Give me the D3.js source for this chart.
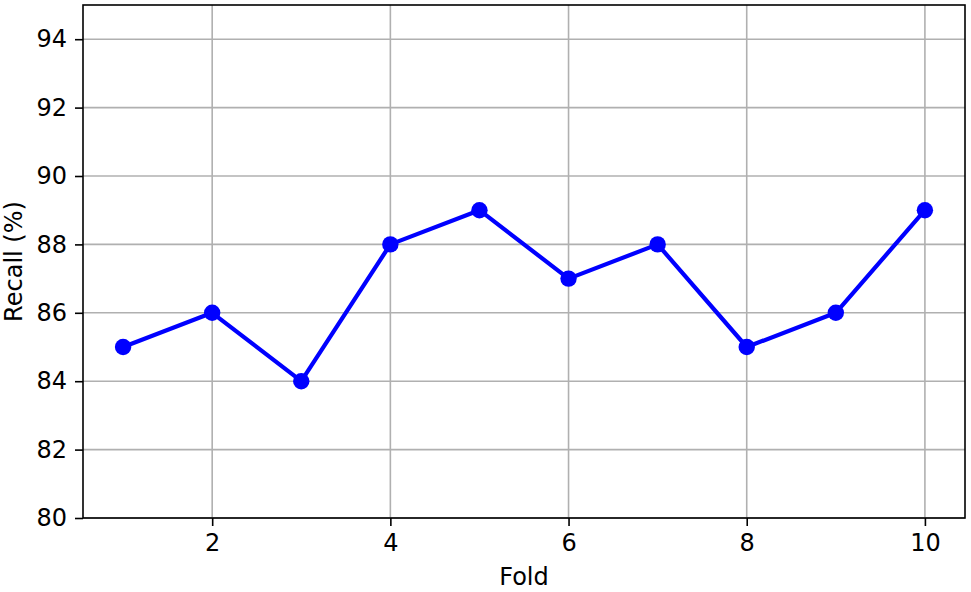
<!DOCTYPE html>
<html>
<head>
<meta charset="utf-8">
<script src="https://cdn.jsdelivr.net/npm/d3@7"></script>
<style>
  body { margin: 0; background: #fff; }
  text { font-family: "DejaVu Sans", sans-serif; fill: #000; }
</style>
</head>
<body>
<div id="chart"></div>
<script>
// Datos
var folds = [1, 2, 3, 4, 5, 6, 7, 8, 9, 10];
var recall = [85, 86, 84, 88, 89, 87, 88, 85, 86, 89];
var xTicks = [2, 4, 6, 8, 10];
var yTicks = [80, 82, 84, 86, 88, 90, 92, 94];

var svgWidth = 971;
var svgHeight = 592;
var margin = { left: 83, right: 6, top: 5, bottom: 74 };
var plotW = svgWidth - margin.left - margin.right;
var plotH = svgHeight - margin.top - margin.bottom;
var fontSize = 24;

var svg = d3.select("#chart")
  .append("svg")
  .attr("width", svgWidth)
  .attr("height", svgHeight);

var g = svg.append("g")
  .attr("transform", "translate(" + margin.left + "," + margin.top + ")");

var x = d3.scaleLinear().domain([0.55, 10.45]).range([0, plotW]);
var y = d3.scaleLinear().domain([80, 95]).range([plotH, 0]);

// Grilla
g.append("g")
  .selectAll("line.vgrid")
  .data(xTicks)
  .enter().append("line")
  .attr("x1", function(d){ return x(d); })
  .attr("x2", function(d){ return x(d); })
  .attr("y1", 0).attr("y2", plotH)
  .attr("stroke", "#b0b0b0").attr("stroke-width", 1.6);

g.append("g")
  .selectAll("line.hgrid")
  .data(yTicks)
  .enter().append("line")
  .attr("y1", function(d){ return y(d); })
  .attr("y2", function(d){ return y(d); })
  .attr("x1", 0).attr("x2", plotW)
  .attr("stroke", "#b0b0b0").attr("stroke-width", 1.6);

// Ejes
var xAxis = g.append("g")
  .attr("transform", "translate(0," + plotH + ")")
  .call(d3.axisBottom(x).tickValues(xTicks).tickSizeInner(8).tickSizeOuter(0).tickPadding(8));
var yAxis = g.append("g")
  .call(d3.axisLeft(y).tickValues(yTicks).tickSizeInner(8).tickSizeOuter(0).tickPadding(8));

[xAxis, yAxis].forEach(function(ax){
  ax.select(".domain").remove();
  ax.selectAll(".tick line").attr("stroke", "#000").attr("stroke-width", 1.6);
  ax.selectAll(".tick text")
    .style("font-family", "DejaVu Sans, sans-serif")
    .style("font-size", fontSize + "px")
    .attr("fill", "#1a1a1a");
});

// Marco
g.append("rect")
  .attr("x", 0).attr("y", 0)
  .attr("width", plotW).attr("height", plotH)
  .attr("fill", "none")
  .attr("stroke", "#000")
  .attr("stroke-width", 1.6);

// Linea
var line = d3.line()
  .x(function(d, i){ return x(folds[i]); })
  .y(function(d){ return y(d); });

g.append("path")
  .datum(recall)
  .attr("d", line)
  .attr("fill", "none")
  .attr("stroke", "#0000ff")
  .attr("stroke-width", 4.2)
  .attr("stroke-linejoin", "round");

g.selectAll("circle")
  .data(recall)
  .enter().append("circle")
  .attr("cx", function(d, i){ return x(folds[i]); })
  .attr("cy", function(d){ return y(d); })
  .attr("r", 8.2)
  .attr("fill", "#0000ff");

// Titulos de ejes
svg.append("text")
  .attr("x", margin.left + plotW / 2)
  .attr("y", 585)
  .attr("text-anchor", "middle")
  .style("font-size", fontSize + "px")
  .text("Fold");

svg.append("text")
  .attr("transform", "translate(22," + (margin.top + plotH / 2) + ") rotate(-90)")
  .attr("text-anchor", "middle")
  .style("font-size", fontSize + "px")
  .text("Recall (%)");
</script>
</body>
</html>
